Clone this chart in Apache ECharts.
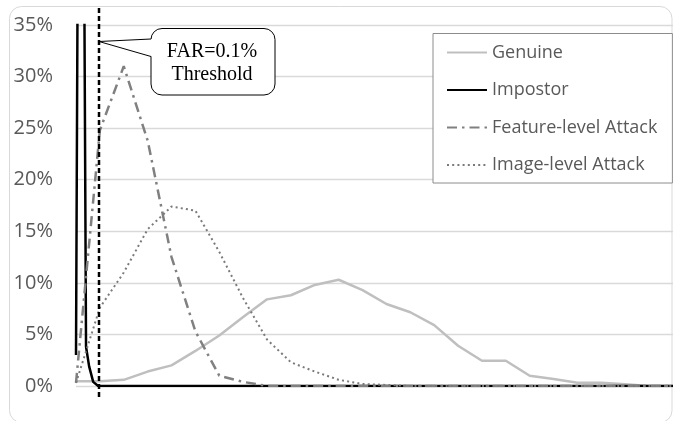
<!DOCTYPE html>
<html>
<head>
<meta charset="utf-8">
<script src="https://cdn.jsdelivr.net/npm/echarts@6/dist/echarts.min.js"></script>
<style>
html,body{margin:0;padding:0;background:#fff;}
#chart{width:673px;height:421px;}
</style>
</head>
<body>
<div id="chart"></div>
<script>
// ---- data (x = score bin index, y = percentage) ----
const binX = [0,1,2,3,4,5,6,7,8,9,10,11,12,13,14,15,16,17,18,19,20,21,22,23,24,25];
const genuine = [0.45,0.45,0.6,1.4,2.0,3.4,4.9,6.7,8.4,8.8,9.8,10.3,9.3,7.95,7.15,5.9,3.9,2.45,2.45,1.0,0.68,0.32,0.32,0.16,0,0];
const featureAttack = [0.3,24.8,31.0,23.8,12.5,5.3,1.0,0.4,0,0,0,0,0,0,0,0,0,0,0,0,0,0,0,0,0,0];
const imageAttack = [0.3,7.6,11.0,15.2,17.4,17.0,13.0,8.5,4.5,2.3,1.4,0.6,0.2,0.1,0,0,0,0,0,0,0,0,0,0,0,0];
const impostorX = [0,0.2,0.42,0.55,0.72,0.93,25];
const impostor = [3.0,110,3.8,1.9,0.4,0,0];
const seriesNames = ['Genuine','Impostor','Feature-level Attack','Image-level Attack'];
const yTicks = [0,5,10,15,20,25,30,35];
const thresholdX = 0.96;
const calloutY = 33.4;
const calloutText = 'FAR=0.1%\nThreshold';

const zip = (xs, ys) => xs.map((x, i) => [x, ys[i]]);

const chart = echarts.init(document.getElementById('chart'), null, {renderer: 'canvas'});
const option = {
  animation: false,
  backgroundColor: '#fff',
  grid: {left: 76, top: 25, right: -3, bottom: 35, containLabel: false},
  xAxis: {
    type: 'value', min: 0, max: 25,
    axisLine: {show: false}, axisTick: {show: false}, axisLabel: {show: false},
    splitLine: {show: false}
  },
  yAxis: {
    type: 'value', min: yTicks[0], max: yTicks[yTicks.length - 1], interval: 5,
    axisLine: {show: false}, axisTick: {show: false},
    axisLabel: {formatter: '{value}%', color: '#595959', fontFamily: 'Open Sans', fontSize: 20, margin: 23},
    splitLine: {lineStyle: {color: '#d9d9d9', width: 1.3}}
  },
  legend: {
    orient: 'vertical', left: 433, top: 33.5,
    data: seriesNames,
    itemWidth: 40, itemHeight: 14, itemGap: 17.5,
    padding: [9, 15, 8, 13],
    backgroundColor: '#fff', borderColor: '#8c8c8c', borderWidth: 1,
    itemStyle: {opacity: 0},
    textStyle: {color: '#595959', fontFamily: 'Open Sans', fontSize: 18, lineHeight: 20},
    selectedMode: false
  },
  series: [
    {name: seriesNames[0], type: 'line', symbol: 'none', data: zip(binX, genuine),
     lineStyle: {color: '#bfbfbf', width: 2.5}, itemStyle: {color: '#bfbfbf'}},
    {name: seriesNames[1], type: 'line', symbol: 'none', data: zip(impostorX, impostor),
     lineStyle: {color: '#000', width: 2.5}, itemStyle: {color: '#000'}},
    {name: seriesNames[2], type: 'line', symbol: 'none', data: zip(binX, featureAttack),
     lineStyle: {color: '#808080', width: 2.5, type: [10, 5, 2.5, 5]}, itemStyle: {color: '#808080'}},
    {name: seriesNames[3], type: 'line', symbol: 'none', data: zip(binX, imageAttack),
     lineStyle: {color: '#7a7a7a', width: 2, type: [2, 3.2]}, itemStyle: {color: '#7a7a7a'}}
  ]
};
chart.setOption(option);

// threshold line + callout placed through the chart's own scales
const pTop = chart.convertToPixel({gridIndex: 0}, [thresholdX, calloutY]);
const tx = Math.round(pTop[0]);
const ay = pTop[1];
const boxL = 151, boxT = 28.5, boxW = 124, boxH = 66.5;
chart.setOption({
  graphic: [
    {type: 'rect', z: 0, silent: true,
     shape: {x: 9.5, y: 6.5, width: 662.5, height: 416, r: 12},
     style: {fill: 'none', stroke: '#d9d9d9', lineWidth: 1}},
    {type: 'line', z: 100, silent: true,
     shape: {x1: tx, y1: 8, x2: tx, y2: 397},
     style: {stroke: '#000', lineWidth: 2.5, lineDash: [5, 3]}},
    {type: 'rect', z: 101, silent: true,
     shape: {x: boxL, y: boxT, width: boxW, height: boxH, r: 11},
     style: {fill: '#fff', stroke: '#000', lineWidth: 1}},
    {type: 'polygon', z: 102, silent: true,
     shape: {points: [[tx, ay], [boxL + 1, boxT + 10.5], [boxL + 1, boxT + 28]]},
     style: {fill: '#fff', stroke: 'none'}},
    {type: 'polyline', z: 103, silent: true,
     shape: {points: [[boxL, boxT + 10.5], [tx, ay], [boxL, boxT + 28]]},
     style: {fill: 'none', stroke: '#000', lineWidth: 1}},
    {type: 'text', z: 104, silent: true,
     style: {x: boxL + boxW / 2 - 1, y: boxT + boxH / 2 + 1, text: calloutText,
             fill: '#000', font: '20px "Liberation Serif"', lineHeight: 23,
             align: 'center', verticalAlign: 'middle'}}
  ]
});
</script>
</body>
</html>
